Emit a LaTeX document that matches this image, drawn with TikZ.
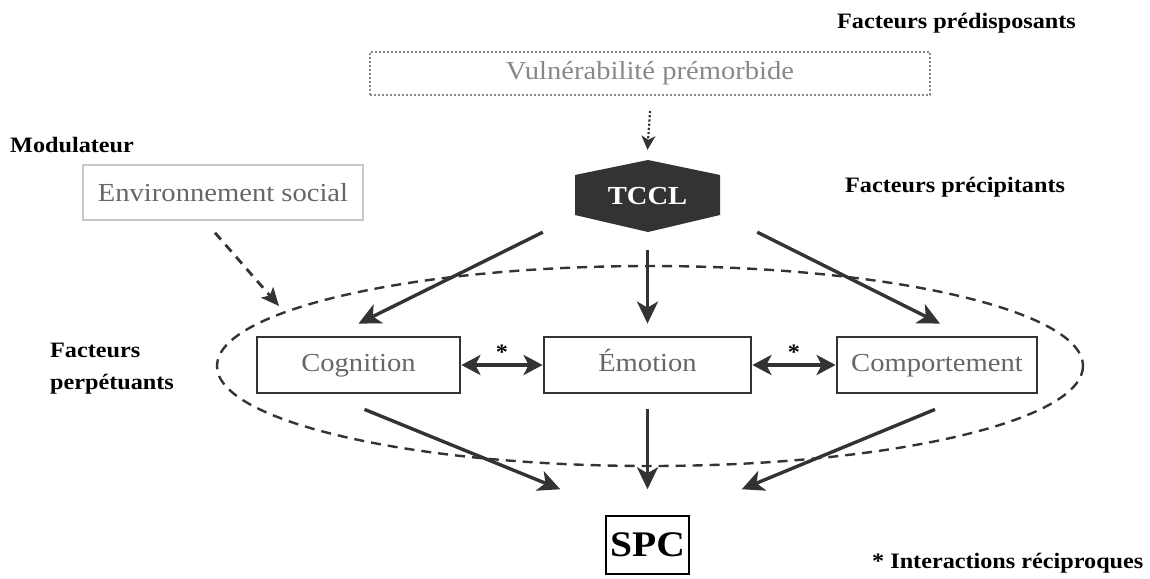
\documentclass[tikz,border=0pt]{standalone}
\usepackage{fontspec}
\setmainfont[FakeStretch=1.1]{Liberation Serif}
\usetikzlibrary{arrows.meta}
\definecolor{dark}{HTML}{333333}
\definecolor{midgray}{HTML}{666666}
\definecolor{softgray}{HTML}{888888}
\definecolor{lightgray}{HTML}{C8C8C8}

\begin{document}
\begin{tikzpicture}[x=1pt,y=-1pt]
\tikzstyle{every node}+=[inner sep=0pt]
\tikzstyle{lbl}=[font=\fontsize{22}{32}\selectfont\bfseries, anchor=base west, align=left]
\tikzstyle{box}=[draw=dark, line width=2.8pt, minimum height=56pt, text height=18pt, text depth=5pt,
  text=midgray, font=\fontsize{26}{28}\selectfont]
\tikzstyle{arr}=[draw=dark, line width=3.4pt, -{Stealth[length=22pt,width=21pt,inset=6pt]}]
\tikzstyle{dbl}=[draw=dark, line width=3.4pt, {Stealth[length=19pt,width=20pt,inset=5pt]}-{Stealth[length=19pt,width=20pt,inset=5pt]}]
\useasboundingbox (0,0) rectangle (1150,578);

% labels on the side
\node[lbl] (predisp) at (837,29) {Facteurs prédisposants};
\node[lbl] (modul) at (10,152) {Modulateur};
\node[lbl] (precip) at (845,192) {Facteurs précipitants};
\node[lbl, anchor=west] (perpet) at (50,369) {Facteurs\\perpétuants};
\node[lbl] (recip) at (872,568) {* Interactions réciproques};

% top boxes
\node[draw=softgray, dotted, line width=2pt, minimum width=560pt, minimum height=43pt,
  text=softgray, font=\fontsize{26}{28}\selectfont] (vuln) at (650,73.5) {Vulnérabilité prémorbide};
\node[draw=lightgray, line width=1.5pt, minimum width=280pt, minimum height=55pt,
  text=midgray, font=\fontsize{26}{28}\selectfont] (env) at (223,192.5) {Environnement social};

% TCCL
\fill[dark] (575,175) -- (648,160) -- (720,175) -- (720,215) -- (648,232) -- (575,215) -- cycle;
\node[minimum width=145pt, minimum height=72pt, text=white,
  font=\fontsize{26}{28}\selectfont\bfseries] (tccl) at (647.5,196) {TCCL};

% perpetuating factors
\coordinate (pc) at (650,366);
\draw[dark, dashed, dash pattern=on 10pt off 7pt, line width=2.4pt] (pc) ellipse [x radius=433, y radius=100];
\node[box, minimum width=203pt] (cog) at (358.5,365) {Cognition};
\node[box, minimum width=207pt] (emo) at (647.5,365) {Émotion};
\node[box, minimum width=200pt] (comp) at (937,365) {Comportement};

\node[draw=black, line width=1.5pt, minimum width=83pt, minimum height=58pt,
  font=\fontsize{36}{38}\selectfont\bfseries] (spc) at (647.5,545) {SPC};

% arrows
\draw[dark, line width=2.2pt, dotted, -{Stealth[length=14pt,width=14pt,inset=4pt]}]
  ([shift={(0,15)}]vuln.south) -- ([shift={(0,-10)}]tccl.north);
\coordinate (envtip) at (279,306);
\draw[dark, line width=2.8pt, dashed, dash pattern=on 9pt off 7pt, -{Stealth[length=18pt,width=16pt,inset=4pt]}]
  ([shift={(-8,12)}]env.south) -- (envtip);

\draw[arr] ([shift={(-32,0)}]tccl.south west) -- ([shift={(0,-12)}]cog.north);
\draw[arr] ([shift={(0,18)}]tccl.south) -- ([shift={(0,-12)}]emo.north);
\draw[arr] ([shift={(37,0)}]tccl.south east) -- ([shift={(3,-12)}]comp.north);

\draw[dbl] (cog.east) -- node[above=4pt, font=\fontsize{22}{22}\selectfont\bfseries] {*} (emo.west);
\draw[dbl] (emo.east) -- node[above=4pt, font=\fontsize{22}{22}\selectfont\bfseries] {*} (comp.west);

\draw[arr] ([shift={(6,15)}]cog.south) -- ([shift={(-45,-26)}]spc.north west);
\draw[arr] ([shift={(0,15)}]emo.south) -- ([shift={(0,-26)}]spc.north);
\draw[arr] ([shift={(-2,15)}]comp.south) -- ([shift={(52,-26)}]spc.north east);
\end{tikzpicture}
\end{document}
